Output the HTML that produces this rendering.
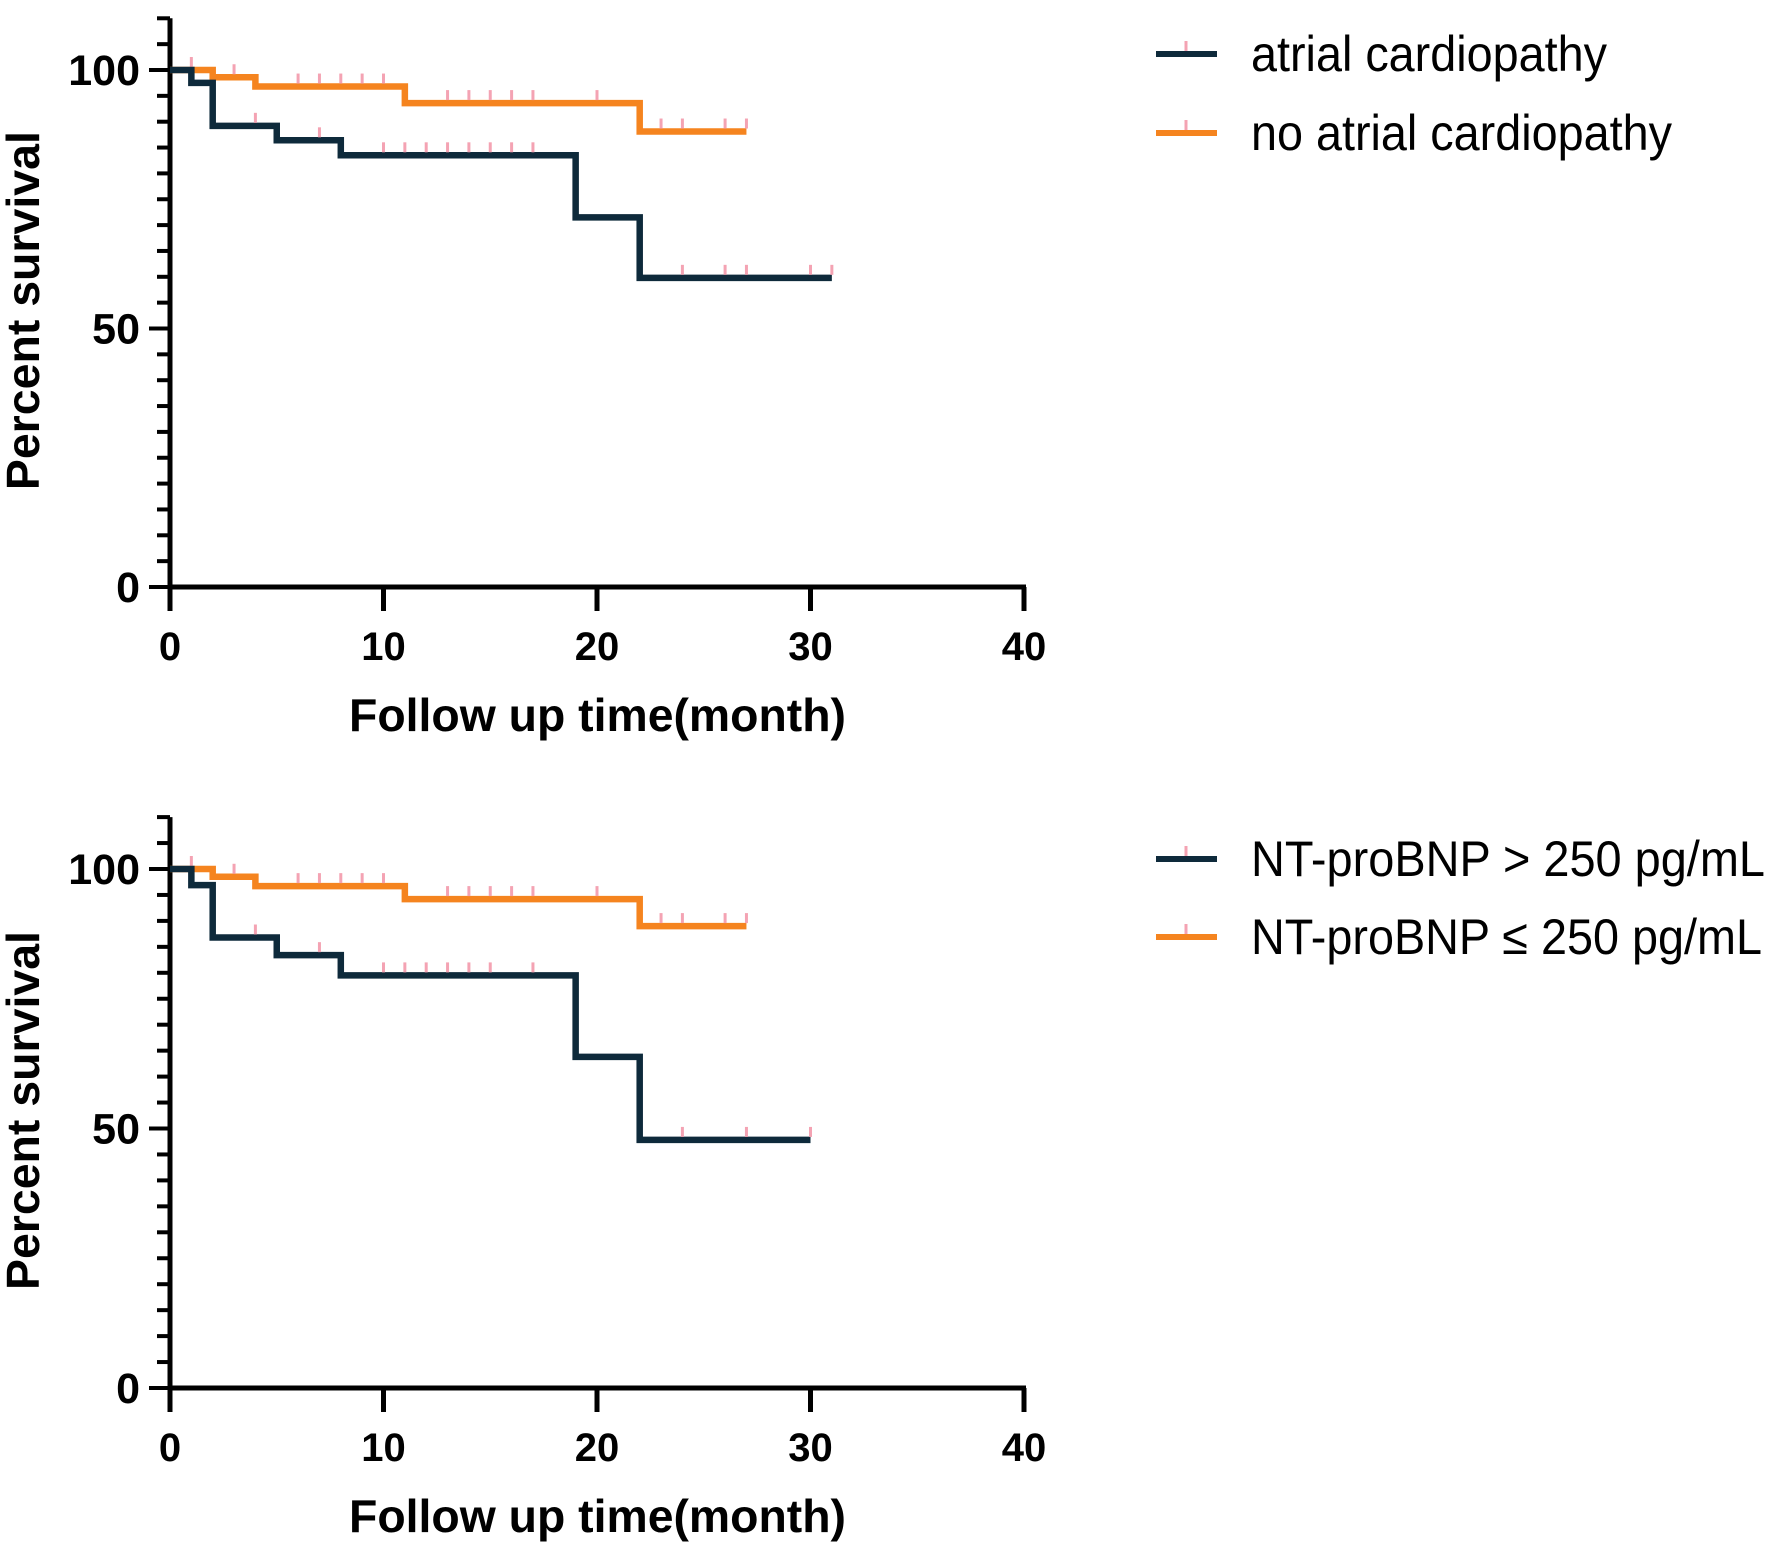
<!DOCTYPE html>
<html><head><meta charset="utf-8"><style>
html,body{margin:0;padding:0;background:#fff;}
svg{display:block;font-family:"Liberation Sans",Arial,sans-serif;}
</style></head><body>
<svg id="fig" width="1772" height="1559" viewBox="0 0 1772 1559"></svg>
<script>
// ---- data ----
const xTicks = [0, 10, 20, 30, 40];
const yTicks = [0, 50, 100];
// panel A
const aDarkTimes = [0, 1, 2, 5, 8, 19, 22, 31];
const aDarkSurv  = [100, 97.5, 89.2, 86.4, 83.5, 71.5, 59.8, 59.8];
const aDarkCens  = [4, 7, 10, 11, 12, 13, 14, 15, 16, 17, 24, 26, 27, 30, 31];
const aOrTimes = [0, 2, 4, 11, 22, 27];
const aOrSurv  = [100, 98.6, 96.8, 93.6, 88.1, 88.1];
const aOrCens  = [1, 3, 6, 7, 8, 9, 10, 13, 14, 15, 16, 17, 20, 23, 24, 26, 27];
const aLegend = ["atrial cardiopathy", "no atrial cardiopathy"];
// panel B
const bDarkTimes = [0, 1, 2, 5, 8, 19, 22, 30];
const bDarkSurv  = [100, 96.9, 86.8, 83.4, 79.5, 63.8, 47.8, 47.8];
const bDarkCens  = [4, 7, 10, 11, 12, 13, 14, 15, 17, 24, 27, 30];
const bOrTimes = [0, 2, 4, 11, 22, 27];
const bOrSurv  = [100, 98.5, 96.7, 94.2, 89.0, 89.0];
const bOrCens  = [1, 3, 6, 7, 8, 9, 10, 13, 14, 15, 16, 17, 20, 23, 24, 26, 27];
const bLegend = ["NT-proBNP > 250 pg/mL", "NT-proBNP \u2264 250 pg/mL"];

const NS = "http://www.w3.org/2000/svg";
const svg = document.getElementById("fig");
const DARK = "#0e2a3b", ORANGE = "#f5841f", PINK = "#f4a3b3";

function mk(tag, attrs, parent) {
  const e = document.createElementNS(NS, tag);
  for (const k in attrs) e.setAttribute(k, attrs[k]);
  (parent || svg).appendChild(e);
  return e;
}

function panel(cfg) {
  const g = mk("g", {});
  
  
  const x = v => 170 + v * 21.35;
  const y = v => cfg.y0 - v * cfg.ppu;
  const ya = mk("line", {x1: 170, y1: y(110), x2: 170, y2: cfg.y0 + 2, stroke: "#000", "stroke-width": 5}, g);
  
  
  for (let v = 0; v <= 110; v += 5) {
    const major = v % 50 === 0;
    const t = mk("line", {x1: major ? 149 : 157, y1: y(v), x2: 170, y2: y(v), stroke: "#000", "stroke-width": 4}, g);
    
    
  }
  yTicks.forEach(v => {
    const t = mk("text", {x: 140, y: y(v) + 15, "font-size": 43, "font-weight": "bold", "text-anchor": "end"}, g);
    t.textContent = v;
    
    
  });
  const xa = mk("line", {x1: 168, y1: cfg.y0, x2: x(40) + 2, y2: cfg.y0, stroke: "#000", "stroke-width": 5}, g);
  
  
  xTicks.forEach(v => {
    const t = mk("line", {x1: x(v), y1: cfg.y0, x2: x(v), y2: cfg.y0 + 24, stroke: "#000", "stroke-width": 5}, g);
    
    
    const l = mk("text", {x: x(v), y: cfg.y0 + 73, "font-size": 40, "font-weight": "bold", "text-anchor": "middle"}, g);
    l.textContent = v;
    
    
  });
  const xt = mk("text", {x: 349, y: cfg.y0 + 144, "font-size": 46, "font-weight": "bold", textLength: 497, lengthAdjust: "spacingAndGlyphs"}, g);
  xt.textContent = "Follow up time(month)";
  
  
  const yc = (y(110) + cfg.y0) / 2 + 8;
  const yt = mk("text", {x: 0, y: 0, "font-size": 46, "font-weight": "bold", "text-anchor": "middle", textLength: 359, lengthAdjust: "spacingAndGlyphs", transform: `translate(39,${yc}) rotate(-90)`}, g);
  yt.textContent = "Percent survival";
  
  

  function series(times, surv, cens, color, nm) {
    let d = `M${x(times[0])},${y(surv[0])}`;
    for (let i = 1; i < times.length; i++) {
      d += ` H${x(times[i])} V${y(surv[i])}`;
    }
    const p = mk("path", {d: d, fill: "none", stroke: color, "stroke-width": 6.5, "stroke-linejoin": "miter"}, g);
    
    
    cens.forEach(c => {
      let s = surv[0];
      for (let i = 0; i < times.length; i++) if (times[i] <= c) s = surv[i];
      const m = mk("line", {x1: x(c), y1: y(s) - 13, x2: x(c), y2: y(s) - 3, stroke: PINK, "stroke-width": 3}, g);
      
      
    });
  }
  series(cfg.orT, cfg.orS, cfg.orC, ORANGE, 'orange-series');
  series(cfg.dkT, cfg.dkS, cfg.dkC, DARK, 'dark-series');

  [[DARK, cfg.leg[0], cfg.ly[0], cfg.lw[0]], [ORANGE, cfg.leg[1], cfg.ly[1], cfg.lw[1]]].forEach(([c, txt, ly, lw]) => {
    const le = mk("g", {}, g);
    
    
    mk("line", {x1: 1156, y1: ly, x2: 1217, y2: ly, stroke: c, "stroke-width": 6}, le);
    mk("line", {x1: 1186, y1: ly - 13, x2: 1186, y2: ly - 3, stroke: PINK, "stroke-width": 3}, le);
    const t = mk("text", {x: 1251, y: ly + 17, "font-size": 50, textLength: lw, lengthAdjust: "spacingAndGlyphs"}, le);
    t.textContent = txt;
  });
}

panel({name: 'panel-atrial-cardiopathy', y0: 587, ppu: 5.17,
  dkT: aDarkTimes, dkS: aDarkSurv, dkC: aDarkCens,
  orT: aOrTimes, orS: aOrSurv, orC: aOrCens,
  leg: aLegend, ly: [54, 133], lw: [356, 421]});
panel({name: 'panel-nt-probnp', y0: 1388, ppu: 5.19,
  dkT: bDarkTimes, dkS: bDarkSurv, dkC: bDarkCens,
  orT: bOrTimes, orS: bOrSurv, orC: bOrCens,
  leg: bLegend, ly: [859, 937], lw: [514, 511]});
</script>
</body></html>
